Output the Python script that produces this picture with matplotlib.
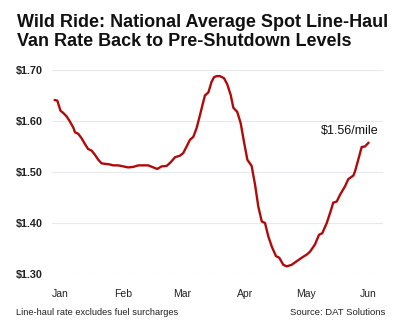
import matplotlib
matplotlib.use('Agg')
import matplotlib.pyplot as plt

plt.rcParams['font.family'] = ['Liberation Sans', 'DejaVu Sans']

# days since Jan 1, 2020 and national average van line-haul rate ($/mile)
days = [-2.5, -1.3, 0.3, 1.6, 3.3, 4.9, 6.6, 7.4, 9.0, 10.7, 12.3, 13.9, 15.6,
        17.2, 18.9, 20.5, 22.2, 24.3, 26.3, 28.7, 31.2, 33.6, 36.1, 38.6, 41.0,
        43.5, 46.0, 47.9, 50.1, 52.6, 54.5, 56.7, 59.1, 60.7, 62.4, 64.0, 65.7,
        67.3, 69.0, 70.3, 71.4, 73.1, 74.7, 75.9, 77.2, 78.8, 80.8, 82.4, 84.1,
        85.4, 87.3, 89.0, 90.6, 92.3, 94.4, 96.1, 97.7, 99.4, 101.0, 102.6,
        104.3, 106.4, 108.0, 110.0, 111.7, 114.1, 116.6, 119.1, 121.5, 123.2,
        125.6, 127.6, 129.2, 131.4, 133.3, 134.6, 136.3, 137.9, 140.4, 142.0,
        144.5, 145.3, 146.9, 148.6, 150.2, 151.9]
rate = [1.641, 1.640, 1.620, 1.616, 1.609, 1.599, 1.587, 1.578, 1.575, 1.566,
        1.555, 1.545, 1.542, 1.534, 1.524, 1.517, 1.516, 1.515, 1.513, 1.513,
        1.511, 1.509, 1.510, 1.513, 1.513, 1.513, 1.509, 1.506, 1.511, 1.512,
        1.519, 1.529, 1.532, 1.537, 1.550, 1.563, 1.569, 1.586, 1.612, 1.633,
        1.650, 1.656, 1.677, 1.686, 1.688, 1.688, 1.684, 1.672, 1.651, 1.626,
        1.618, 1.596, 1.560, 1.524, 1.512, 1.475, 1.432, 1.403, 1.400, 1.374,
        1.354, 1.335, 1.332, 1.318, 1.315, 1.318, 1.325, 1.332, 1.338, 1.344,
        1.358, 1.377, 1.380, 1.400, 1.423, 1.440, 1.442, 1.455, 1.472, 1.486,
        1.493, 1.501, 1.524, 1.549, 1.550, 1.557]

month_days = [0, 31, 60, 91, 121, 152]
month_labels = ['Jan', 'Feb', 'Mar', 'Apr', 'May', 'Jun']
y_ticks = [1.30, 1.40, 1.50, 1.60, 1.70]
last_label = '$1.56/mile'

fig = plt.figure(figsize=(4, 3.26), dpi=100)
ax = fig.add_axes([0.13, 0.1595, 0.8275, 0.6258])

ax.plot(days, rate, color='#b00b0b', lw=1.7, solid_joinstyle='round', zorder=3)

ax.set_xlim(-3.9, 159.1)
ax.set_ylim(1.30, 1.70)

ax.set_yticks(y_ticks)
ax.set_yticklabels([f'${v:.2f}' for v in y_ticks], fontsize=7.8,
                   fontweight='bold', color='#222222')
ax.set_xticks(month_days)
ax.set_xticklabels(month_labels, fontsize=7.5, color='#222222')
ax.tick_params(axis='y', length=0, pad=6.5)
ax.tick_params(axis='x', length=0, pad=10.5)

for v in y_ticks:
    if v == y_ticks[0]:
        ax.axhline(v, color='#d5d8dd', lw=0.8, ls=(0, (1, 1)), zorder=1)
    else:
        ax.axhline(v, color='#e6e9ee', lw=0.8, zorder=1)

for s in ax.spines.values():
    s.set_visible(False)

ax.annotate(last_label, (days[-1], rate[-1]), xytext=(7.5, 4),
            textcoords='offset points', ha='right', va='bottom',
            fontsize=9, color='#111111')

fig.text(0.0425, 0.958, 'Wild Ride: National Average Spot Line-Haul\n'
         'Van Rate Back to Pre-Shutdown Levels',
         ha='left', va='top', fontsize=13.0, fontweight='bold',
         color='#111111', linespacing=1.15)

fig.text(0.04, 0.04, 'Line-haul rate excludes fuel surcharges',
         ha='left', va='center', fontsize=6.7, color='#222222')
fig.text(0.963, 0.04, 'Source: DAT Solutions',
         ha='right', va='center', fontsize=6.8, color='#222222')

fig.savefig('out.png', dpi=100)
